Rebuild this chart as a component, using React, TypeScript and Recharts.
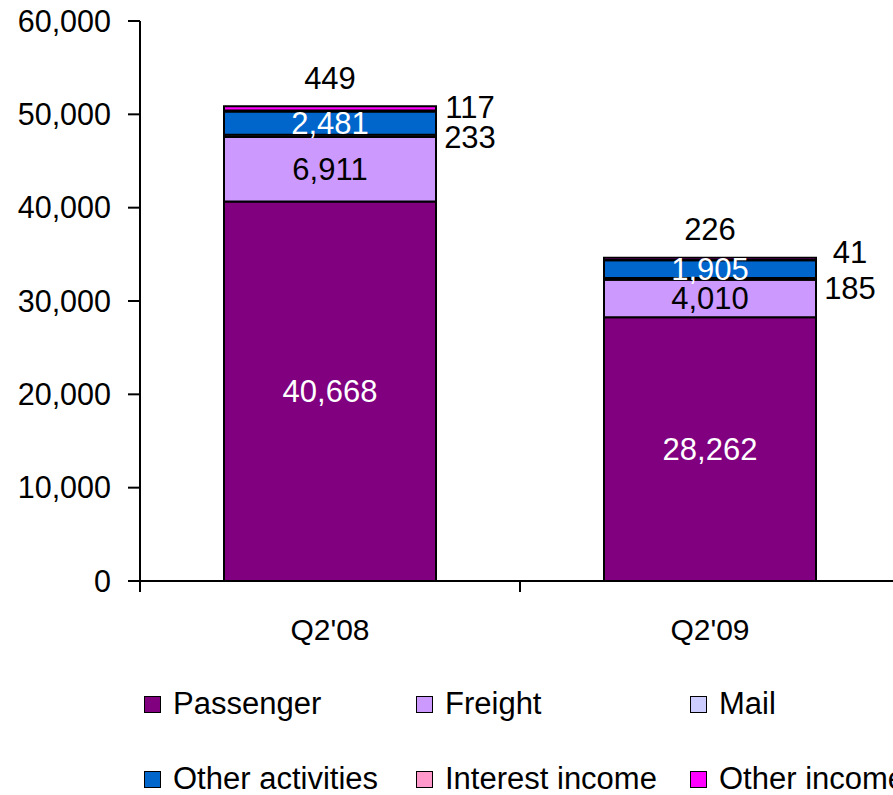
import { Bar, BarChart, LabelList, XAxis, YAxis } from "recharts"

const CATEGORIES = ["Q2'08", "Q2'09"]
const PASSENGER = [40668, 28262]
const FREIGHT = [6911, 4010]
const MAIL = [233, 185]
const OTHER_ACTIVITIES = [2481, 1905]
const INTEREST_INCOME = [117, 41]
const OTHER_INCOME = [449, 226]
const Y_TICKS = [0, 10000, 20000, 30000, 40000, 50000, 60000]

const FONT = "'Liberation Sans', Arial, sans-serif"
const CHART_W = 910
const CHART_H = 795
const PLOT_LEFT = 140
const PLOT_RIGHT_MARGIN = 10
const BAND = (CHART_W - PLOT_LEFT - PLOT_RIGHT_MARGIN) / CATEGORIES.length

type Placement = "inside" | "right" | "top"

const SERIES: {
  key: string
  name: string
  values: number[]
  color: string
  placement: Placement
  labelColor: string
  dy?: number[]
}[] = [
  { key: "passenger", name: "Passenger", values: PASSENGER, color: "#800080", placement: "inside", labelColor: "#ffffff" },
  { key: "freight", name: "Freight", values: FREIGHT, color: "#cc99ff", placement: "inside", labelColor: "#000000" },
  { key: "mail", name: "Mail", values: MAIL, color: "#ccccff", placement: "right", labelColor: "#000000", dy: [2, 10] },
  { key: "other", name: "Other activities", values: OTHER_ACTIVITIES, color: "#0066cc", placement: "inside", labelColor: "#ffffff" },
  { key: "interest", name: "Interest income", values: INTEREST_INCOME, color: "#ff99cc", placement: "right", labelColor: "#000000", dy: [-4, -8] },
  { key: "otherIncome", name: "Other income", values: OTHER_INCOME, color: "#ff00ff", placement: "top", labelColor: "#000000" },
]

const data = CATEGORIES.map((name, i) => {
  const row: Record<string, string | number> = { name }
  SERIES.forEach((s) => {
    row[s.key] = s.values[i]
  })
  return row
})

const fmt = (v: number) => Number(v).toLocaleString("en-US")

function makeLabel(placement: Placement, color: string, dy?: number[]) {
  return (props: any) => {
    const { x, y, width, height, value, index } = props
    let tx = x + width / 2
    let ty = y + height / 2
    if (placement === "right") {
      tx = x + width + 34
      ty = ty + (dy ? dy[index] : 0)
    } else if (placement === "top") {
      ty = y - 28
    }
    return (
      <text
        x={tx}
        y={ty}
        fill={color}
        fontSize={31}
        fontFamily={FONT}
        textAnchor="middle"
        dominantBaseline="central"
      >
        {fmt(value)}
      </text>
    )
  }
}

function CategoryTick(props: any) {
  const { x, y, payload } = props
  return (
    <g>
      <line x1={x - BAND / 2} x2={x - BAND / 2} y1={y} y2={y + 11} stroke="#000" strokeWidth={2} />
      <line x1={x + BAND / 2} x2={x + BAND / 2} y1={y} y2={y + 11} stroke="#000" strokeWidth={2} />
      <text x={x} y={y + 48} fontSize={30} fontFamily={FONT} textAnchor="middle" dominantBaseline="central" fill="#000">
        {payload.value}
      </text>
    </g>
  )
}

const LEGEND_COLS = [144, 416, 690]
const LEGEND_ROWS = [704, 779]

export default function App() {
  return (
    <div
      style={{
        position: "absolute",
        left: 0,
        top: 0,
        width: 893,
        height: 795,
        overflow: "hidden",
        background: "#fff",
        fontFamily: FONT,
      }}
    >
      <BarChart
        width={CHART_W}
        height={CHART_H}
        data={data}
        margin={{ top: 21, right: PLOT_RIGHT_MARGIN, left: 0, bottom: 0 }}
        barSize={212}
      >
        <XAxis
          dataKey="name"
          height={214}
          tickSize={0}
          tickMargin={0}
          axisLine={{ stroke: "#000", strokeWidth: 2 }}
          tickLine={false}
          tick={<CategoryTick />}
          interval={0}
        />
        <YAxis
          type="number"
          domain={[0, 60000]}
          ticks={Y_TICKS}
          width={PLOT_LEFT}
          tickSize={12}
          tickMargin={17}
          axisLine={{ stroke: "#000", strokeWidth: 2 }}
          tickLine={{ stroke: "#000", strokeWidth: 2 }}
          tick={{ fill: "#000", fontSize: 30.5, fontFamily: FONT }}
          tickFormatter={(v) => fmt(v)}
          interval={0}
        />
        {SERIES.map((s) => (
          <Bar
            key={s.key}
            dataKey={s.key}
            name={s.name}
            stackId="a"
            fill={s.color}
            stroke="#000"
            strokeWidth={2}
            isAnimationActive={false}
          >
            <LabelList dataKey={s.key} content={makeLabel(s.placement, s.labelColor, s.dy)} />
          </Bar>
        ))}
      </BarChart>
      {SERIES.map((s, i) => {
        const left = LEGEND_COLS[i % 3]
        const top = LEGEND_ROWS[Math.floor(i / 3)]
        return (
          <div
            key={s.key}
            style={{
              position: "absolute",
              left,
              top: top - 20,
              height: 40,
              display: "flex",
              alignItems: "center",
              whiteSpace: "nowrap",
              fontSize: 31,
              color: "#000",
            }}
          >
            <span
              style={{
                display: "inline-block",
                width: 15,
                height: 15,
                background: s.color,
                border: "1.5px solid #000",
                marginRight: 12,
              }}
            />
            {s.name}
          </div>
        )
      })}
    </div>
  )
}
